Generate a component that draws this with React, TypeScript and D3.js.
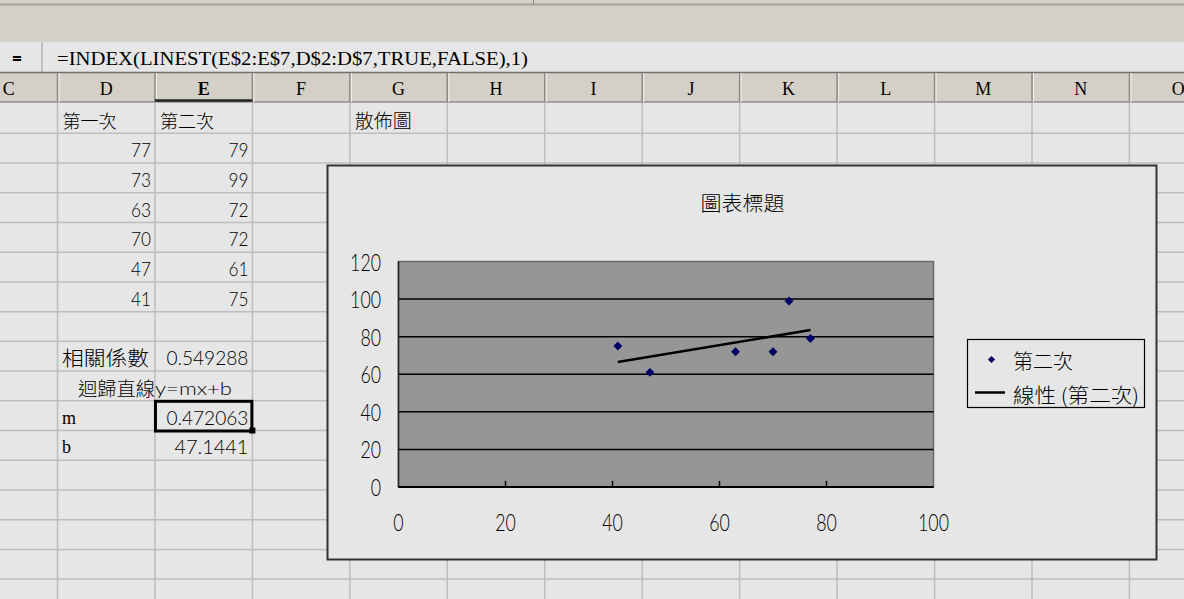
import React from 'react';
import * as d3 from 'd3';

const columnLetters = ['C', 'D', 'E', 'F', 'G', 'H', 'I', 'J', 'K', 'L', 'M', 'N', 'O'];
const firstScores = [77, 73, 63, 70, 47, 41];
const secondScores = [79, 99, 72, 72, 61, 75];
const headerLabels = ['第一次', '第二次'];
const correlationText = '0.549288';
const slopeText = '0.472063';
const interceptText = '47.1441';
const slope = 0.472063;
const intercept = 47.1441;
const yTicks = [0, 20, 40, 60, 80, 100, 120];
const xTicks = [0, 20, 40, 60, 80, 100];
const gridTicks = [20, 40, 60, 80, 100];
const formulaText = '=INDEX(LINEST(E$2:E$7,D$2:D$7,TRUE,FALSE),1)';
const chartTitle = '圖表標題';
const seriesName = '第二次';
const trendName = '線性 (第二次)';
const sheetTitle = '散佈圖';
const corrLabel = '相關係數';
const regLabel = '迴歸直線';
const regEq = 'y=mx+b';

const W = 1184;
const H = 599;
const COL0 = 57.5; // left edge of column D
const COLW = 97.45;
const ROW0 = 103.6;
const ROWH = 29.72;
const CJK = '"Noto Sans CJK TC", "Noto Sans CJK SC", sans-serif';
const NUM = 'Lato, "Open Sans", "Liberation Sans", sans-serif';
const SERIF = '"Liberation Serif", "DejaVu Serif", serif';
const CELL_BG = '#e6e6e6';
const GRID = '#bdbdbd';
const TAN = '#d4d0c8';

const colLeft = (i: number) => COL0 + (i - 1) * COLW; // i: 0 = C
const rowTop = (k: number) => ROW0 + k * ROWH;
const rowMid = (k: number) => rowTop(k) + 16.3;

export default function App() {
  const x = d3.scaleLinear().domain([0, 100]).range([398.5, 933.5]);
  const y = d3.scaleLinear().domain([0, 120]).range([487, 261.5]);

  const pts = firstScores.map((f, i) => ({ x: f, y: secondScores[i] }));
  const xMin = d3.min(firstScores) as number;
  const xMax = d3.max(firstScores) as number;
  const trend = [xMin, xMax].map((v) => ({ x: v, y: slope * v + intercept }));
  const trendPath = d3
    .line<{ x: number; y: number }>()
    .x((d) => x(d.x))
    .y((d) => y(d.y))(trend) as string;
  const diamond = d3.symbol().type(d3.symbolSquare).size(40)() as string;
  const diamondSmall = d3.symbol().type(d3.symbolSquare).size(26)() as string;

  const colLines: number[] = [];
  for (let i = 1; i <= columnLetters.length; i++) colLines.push(colLeft(i));
  const rowLines: number[] = [];
  for (let k = 1; rowTop(k) < H; k++) rowLines.push(rowTop(k));

  const dCol = 1;
  const eCol = 2;
  const gCol = 4;

  const numText = (key: string, tx: number, ty: number, s: string, len: number, anchor: string, size = 18) => (
    <text
      key={key}
      x={tx}
      y={ty}
      fontFamily={NUM}
      fontWeight={300}
      fontSize={size}
      fill="#000"
      textAnchor={anchor}
      dominantBaseline="central"
      textLength={len}
      lengthAdjust="spacingAndGlyphs"
    >
      {s}
    </text>
  );

  return (
    <svg
      width={W}
      height={H}
      viewBox={`0 0 ${W} ${H}`}
      style={{ position: 'absolute', left: 0, top: 0, display: 'block' }}
    >
      {/* toolbar */}
      <rect x={0} y={0} width={W} height={42} fill={TAN} />
      <line x1={0} x2={W} y1={4.5} y2={4.5} stroke="#a6a297" strokeWidth={2} />
      <line x1={533.5} x2={533.5} y1={0} y2={4} stroke="#8c887e" strokeWidth={1} />
      {/* formula bar */}
      <rect x={0} y={42} width={W} height={30} fill={CELL_BG} />
      <line x1={42} x2={42} y1={42} y2={72} stroke="#9a9a9a" strokeWidth={1} />
      <text x={17} y={58} fontFamily={NUM} fontWeight={900} fontSize={18} textAnchor="middle" dominantBaseline="central">
        =
      </text>
      <text
        x={57}
        y={58.5}
        fontFamily={SERIF}
        fontSize={19}
        dominantBaseline="central"
        textLength={471}
        lengthAdjust="spacingAndGlyphs"
      >
        {formulaText}
      </text>
      {/* column header */}
      <rect x={0} y={72} width={W} height={30} fill={TAN} />
      <line x1={0} x2={W} y1={72.5} y2={72.5} stroke="#6f6f6f" strokeWidth={1.5} />
      <line x1={0} x2={W} y1={102} y2={102} stroke="#8a8a8a" strokeWidth={1.5} />
      {colLines.map((cx, i) => (
        <g key={`hs${i}`}>
          <line x1={cx} x2={cx} y1={73} y2={102} stroke="#8a8780" strokeWidth={1.5} />
          <line x1={cx + 1.5} x2={cx + 1.5} y1={73} y2={102} stroke="#f4f2ee" strokeWidth={1} />
        </g>
      ))}
      <line x1={colLeft(eCol)} x2={colLeft(eCol + 1)} y1={100.5} y2={100.5} stroke="#222" strokeWidth={2.5} />
      {columnLetters.map((c, i) => (
        <text
          key={`h${c}`}
          x={colLeft(i) + COLW / 2}
          y={89}
          fontFamily={SERIF}
          fontSize={18}
          fontWeight={i === eCol ? 'bold' : 'normal'}
          textAnchor="middle"
          dominantBaseline="central"
        >
          {c}
        </text>
      ))}
      {/* cells */}
      <rect x={0} y={103} width={W} height={H - 103} fill={CELL_BG} />
      {rowLines.map((ry, i) => (
        <line key={`r${i}`} x1={0} x2={W} y1={ry} y2={ry} stroke={GRID} strokeWidth={1.5} />
      ))}
      {colLines.map((cx, i) => (
        <line key={`c${i}`} x1={cx} x2={cx} y1={103} y2={H} stroke={GRID} strokeWidth={1.5} />
      ))}
      {/* cell texts */}
      {headerLabels.map((t, i) => (
        <text
          key={`hl${i}`}
          x={colLeft(dCol + i) + 5}
          y={rowMid(0)}
          fontFamily={CJK}
          fontWeight={300}
          fontSize={18}
          dominantBaseline="central"
          textLength={54}
          lengthAdjust="spacingAndGlyphs"
        >
          {t}
        </text>
      ))}
      <text
        x={colLeft(gCol) + 5}
        y={rowMid(0)}
        fontFamily={CJK}
        fontWeight={300}
        fontSize={19}
        dominantBaseline="central"
        textLength={57}
        lengthAdjust="spacingAndGlyphs"
      >
        {sheetTitle}
      </text>
      {firstScores.map((v, i) =>
        numText(`f${i}`, colLeft(dCol + 1) - 4, rowMid(i + 1), String(v), String(v).length * 10, 'end', 19)
      )}
      {secondScores.map((v, i) =>
        numText(`s${i}`, colLeft(eCol + 1) - 4, rowMid(i + 1), String(v), String(v).length * 10, 'end', 19)
      )}
      <text
        x={colLeft(dCol) + 4.5}
        y={rowMid(8)}
        fontFamily={CJK}
        fontWeight={300}
        fontSize={20}
        dominantBaseline="central"
        textLength={87}
        lengthAdjust="spacingAndGlyphs"
      >
        {corrLabel}
      </text>
      {numText('corr', colLeft(eCol + 1) - 4, rowMid(8), correlationText, 82, 'end', 19)}
      <text
        x={78}
        y={rowMid(9)}
        fontFamily={CJK}
        fontWeight={300}
        fontSize={19}
        dominantBaseline="central"
        textLength={77}
        lengthAdjust="spacingAndGlyphs"
      >
        {regLabel}
      </text>
      {numText('eq', 155, rowMid(9) + 1, regEq, 77, 'start', 17)}
      <text
        x={colLeft(dCol) + 4.5}
        y={rowMid(10) + 1}
        fontFamily={SERIF}
        fontWeight={400}
        fontSize={18}
        dominantBaseline="central"
      >
        m
      </text>
      {numText('slope', colLeft(eCol + 1) - 4, rowMid(10), slopeText, 82, 'end', 19)}
      <text
        x={colLeft(dCol) + 4.5}
        y={rowMid(11)}
        fontFamily={SERIF}
        fontWeight={400}
        fontSize={18}
        dominantBaseline="central"
      >
        b
      </text>
      {numText('icpt', colLeft(eCol + 1) - 4, rowMid(11), interceptText, 74, 'end', 19)}
      {/* active cell */}
      <rect
        x={colLeft(eCol) + 0.5}
        y={rowTop(10) + 0.5}
        width={COLW - 1}
        height={ROWH}
        fill="none"
        stroke="#000"
        strokeWidth={3}
      />
      <rect x={colLeft(eCol + 1) - 3} y={rowTop(11) - 3} width={6} height={6} fill="#000" />

      {/* chart area */}
      <rect x={327.5} y={165.5} width={829} height={394} fill={CELL_BG} stroke="#333" strokeWidth={2} />
      <text
        x={742.5}
        y={202}
        fontFamily={CJK}
        fontWeight={300}
        fontSize={20}
        textAnchor="middle"
        dominantBaseline="central"
        textLength={84}
        lengthAdjust="spacingAndGlyphs"
      >
        {chartTitle}
      </text>
      {/* plot area */}
      <rect
        x={x(0)}
        y={y(120)}
        width={x(100) - x(0)}
        height={y(0) - y(120)}
        fill="#969696"
        stroke="#6a6a6a"
        strokeWidth={1.5}
      />
      {gridTicks.map((t) => (
        <line key={`g${t}`} x1={x(0)} x2={x(100)} y1={y(t)} y2={y(t)} stroke="#000" strokeWidth={1.5} />
      ))}
      <line x1={x(0)} x2={x(0)} y1={y(120)} y2={y(0)} stroke="#222" strokeWidth={1.5} />
      <line x1={x(0)} x2={x(100)} y1={y(0)} y2={y(0)} stroke="#000" strokeWidth={2} />
      {xTicks
        .filter((t) => t > 0 && t < 100)
        .map((t) => (
          <line key={`xt${t}`} x1={x(t)} x2={x(t)} y1={y(0)} y2={y(0) - 6} stroke="#000" strokeWidth={1.5} />
        ))}
      {yTicks.map((t) => numText(`yl${t}`, 381, y(t), String(t), String(t).length * 10.3, 'end', 23))}
      {xTicks.map((t) => numText(`xl${t}`, x(t), 521.5, String(t), String(t).length * 10.3, 'middle', 23))}
      <path d={trendPath} fill="none" stroke="#000" strokeWidth={2.5} />
      {pts.map((p, i) => (
        <path
          key={`p${i}`}
          d={diamond}
          transform={`translate(${x(p.x)},${y(p.y)}) rotate(45)`}
          fill="#000066"
        />
      ))}
      {/* legend */}
      <rect x={967.5} y={339.5} width={177} height={68} fill={CELL_BG} stroke="#000" strokeWidth={1.2} />
      <path d={diamondSmall} transform="translate(991.5,359.5) rotate(45)" fill="#000066" />
      <text
        x={1013}
        y={360}
        fontFamily={CJK}
        fontWeight={300}
        fontSize={20}
        dominantBaseline="central"
        textLength={60}
        lengthAdjust="spacingAndGlyphs"
      >
        {seriesName}
      </text>
      <line x1={975} x2={1005} y1={392.5} y2={392.5} stroke="#000" strokeWidth={2.5} />
      <text
        x={1013}
        y={394}
        fontFamily={CJK}
        fontWeight={300}
        fontSize={20}
        dominantBaseline="central"
        textLength={126}
        lengthAdjust="spacingAndGlyphs"
      >
        {trendName}
      </text>
    </svg>
  );
}
